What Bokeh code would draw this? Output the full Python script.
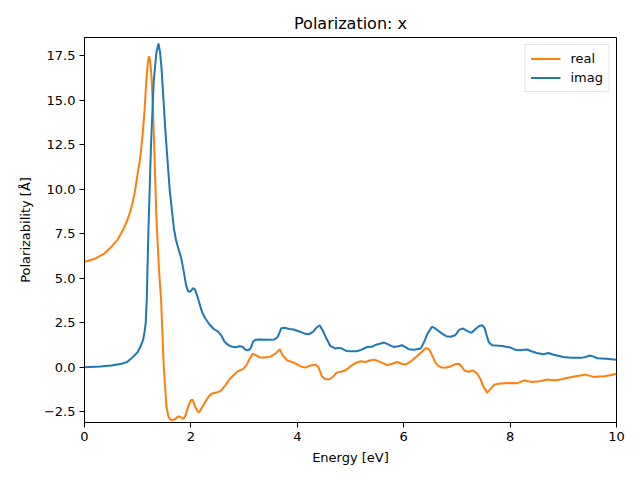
from bokeh.plotting import figure
from bokeh.models import Range1d, FixedTicker, CustomJSTickFormatter, Legend, LegendItem
from bokeh.embed import file_html
from bokeh.resources import INLINE

# ---- data ----
energy_imag = [0.0, 0.3, 0.5, 0.7, 0.8, 0.88, 0.95, 1.0, 1.05, 1.1,
               1.13, 1.15, 1.17, 1.2, 1.25, 1.3, 1.35, 1.39, 1.42, 1.45,
               1.52, 1.6, 1.68, 1.72, 1.77, 1.82, 1.87, 1.91, 1.95, 1.99,
               2.04, 2.08, 2.12, 2.16, 2.21, 2.26, 2.35, 2.43, 2.51, 2.57,
               2.63, 2.7, 2.76, 2.84, 2.91, 2.97, 3.02, 3.07, 3.12, 3.17,
               3.22, 3.3, 3.45, 3.57, 3.63, 3.7, 3.76, 3.85, 3.93, 4.05,
               4.15, 4.22, 4.3, 4.37, 4.42, 4.48, 4.55, 4.62, 4.72, 4.78,
               4.84, 4.92, 5.02, 5.12, 5.2, 5.31, 5.4, 5.48, 5.55, 5.63,
               5.7, 5.78, 5.82, 5.9, 5.97, 6.04, 6.1, 6.2, 6.32, 6.38,
               6.45, 6.53, 6.57, 6.65, 6.72, 6.8, 6.88, 6.97, 7.04, 7.11,
               7.19, 7.27, 7.35, 7.42, 7.48, 7.52, 7.56, 7.6, 7.66, 7.75,
               7.85, 8.01, 8.08, 8.16, 8.25, 8.32, 8.4, 8.5, 8.63, 8.72,
               8.8, 8.9, 9.0, 9.14, 9.33, 9.42, 9.5, 9.57, 9.64, 9.8,
               10.0]
imag_values = [0.0, 0.05, 0.1, 0.2, 0.3, 0.5, 0.7, 0.86, 1.15, 1.52,
               2.0, 2.46, 3.77, 7.5, 12.5, 16.0, 17.65, 18.18, 17.7, 16.7,
               13.3, 10.0, 7.8, 7.15, 6.6, 6.1, 5.3, 4.6, 4.25, 4.25,
               4.45, 4.35, 4.0, 3.6, 3.1, 2.8, 2.4, 2.15, 2.0, 1.8,
               1.45, 1.25, 1.17, 1.12, 1.18, 1.15, 1.0, 0.95, 1.05, 1.45,
               1.55, 1.56, 1.55, 1.56, 1.7, 2.2, 2.22, 2.15, 2.12, 2.0,
               1.88, 1.86, 2.0, 2.25, 2.36, 2.05, 1.6, 1.2, 1.05, 1.09,
               1.05, 0.92, 0.9, 0.9, 0.98, 1.14, 1.15, 1.27, 1.32, 1.39,
               1.3, 1.18, 1.14, 1.18, 1.24, 1.12, 1.01, 0.98, 1.05, 1.4,
               1.9, 2.27, 2.23, 2.05, 1.89, 1.75, 1.72, 1.8, 2.1, 2.18,
               2.05, 1.93, 2.15, 2.32, 2.36, 2.2, 1.8, 1.4, 1.24, 1.22,
               1.2, 1.11, 1.0, 0.96, 0.98, 1.0, 0.9, 0.8, 0.73, 0.8,
               0.72, 0.65, 0.58, 0.53, 0.53, 0.58, 0.66, 0.6, 0.51, 0.48,
               0.43]

energy_real = [0.0, 0.2, 0.38, 0.5, 0.63, 0.73, 0.81, 0.86, 0.9, 0.94,
               0.97, 1.0, 1.04, 1.07, 1.1, 1.13, 1.16, 1.19, 1.21, 1.23,
               1.26, 1.29, 1.32, 1.35, 1.4, 1.44, 1.49, 1.54, 1.58, 1.63,
               1.7, 1.75, 1.79, 1.83, 1.86, 1.9, 1.95, 2.0, 2.03, 2.08,
               2.13, 2.16, 2.2, 2.26, 2.32, 2.38, 2.44, 2.52, 2.57, 2.65,
               2.72, 2.8, 2.88, 2.98, 3.05, 3.1, 3.16, 3.22, 3.3, 3.4,
               3.5, 3.58, 3.67, 3.72, 3.81, 3.9, 3.97, 4.06, 4.15, 4.25,
               4.34, 4.4, 4.46, 4.52, 4.6, 4.68, 4.74, 4.82, 4.91, 5.0,
               5.1, 5.19, 5.28, 5.36, 5.44, 5.52, 5.6, 5.69, 5.78, 5.88,
               5.96, 6.03, 6.12, 6.25, 6.35, 6.42, 6.48, 6.53, 6.59, 6.63,
               6.7, 6.78, 6.88, 6.96, 7.04, 7.1, 7.15, 7.22, 7.3, 7.38,
               7.44, 7.5, 7.57, 7.62, 7.7, 7.78, 7.9, 8.04, 8.12, 8.2,
               8.26, 8.33, 8.41, 8.55, 8.7, 8.78, 8.85, 8.95, 9.07, 9.2,
               9.3, 9.42, 9.5, 9.57, 9.66, 9.77, 9.88, 10.0]
real_values = [5.93, 6.1, 6.4, 6.75, 7.2, 7.75, 8.3, 8.75, 9.2, 9.75,
               10.3, 10.9, 11.6, 12.4, 13.3, 14.5, 16.0, 17.1, 17.46, 17.3,
               16.3, 14.3, 11.5, 8.5, 5.5, 3.77, 0.0, -2.2, -2.8, -2.98,
               -2.92, -2.78, -2.76, -2.85, -2.89, -2.7, -2.2, -1.85, -1.82, -2.2,
               -2.5, -2.51, -2.3, -2.0, -1.7, -1.5, -1.44, -1.38, -1.3, -1.0,
               -0.7, -0.45, -0.22, -0.1, 0.15, 0.45, 0.76, 0.68, 0.55, 0.55,
               0.6, 0.75, 1.01, 0.7, 0.39, 0.3, 0.2, 0.05, -0.02, 0.1,
               0.15, 0.0, -0.5, -0.66, -0.69, -0.5, -0.3, -0.25, -0.17, 0.05,
               0.25, 0.34, 0.3, 0.38, 0.43, 0.35, 0.25, 0.12, 0.2, 0.3,
               0.2, 0.15, 0.3, 0.62, 0.9, 1.09, 1.0, 0.7, 0.3, 0.13,
               0.0, -0.02, 0.05, 0.17, 0.2, 0.0, -0.2, -0.25, -0.17, -0.35,
               -0.64, -1.1, -1.42, -1.25, -0.98, -0.92, -0.9, -0.88, -0.9, -0.82,
               -0.73, -0.78, -0.83, -0.78, -0.68, -0.72, -0.73, -0.68, -0.6, -0.52,
               -0.47, -0.41, -0.48, -0.54, -0.52, -0.5, -0.45, -0.36]

x_ticks = [0, 2, 4, 6, 8, 10]
y_ticks = [-2.5, 0.0, 2.5, 5.0, 7.5, 10.0, 12.5, 15.0, 17.5]

FONT = "DejaVu Sans"

p = figure(width=632, height=472, output_backend="svg", toolbar_location=None,
           x_range=Range1d(0, 10), y_range=Range1d(-3.1, 18.52),
           min_border_left=84, min_border_right=16, min_border_top=37,
           min_border_bottom=50,
           title="Polarization: x")
p.frame_width = 532
p.frame_height = 385

p.title.text_font = FONT
p.title.text_font_size = "16px"
p.title.text_font_style = "normal"
p.title.align = "center"
p.title.text_color = "black"

p.xgrid.visible = False
p.ygrid.visible = False
p.outline_line_color = "black"
p.outline_line_width = 1
p.outline_line_alpha = 1.0

for ax in (p.xaxis[0], p.yaxis[0]):
    ax.axis_label_text_font = FONT
    ax.axis_label_text_font_size = "13px"
    ax.axis_label_text_font_style = "normal"
    ax.axis_label_text_color = "black"
    ax.major_label_text_font = FONT
    ax.major_label_text_font_size = "13px"
    ax.major_label_text_color = "black"
    ax.major_tick_out = 5
    ax.major_tick_in = 0
    ax.minor_tick_out = 0
    ax.minor_tick_in = 0
    ax.major_tick_line_color = "black"
    ax.axis_line_color = "black"

p.xaxis.axis_label = "Energy [eV]"
p.yaxis.axis_label = "Polarizability [Å]"
p.xaxis.ticker = FixedTicker(ticks=x_ticks)
p.yaxis.ticker = FixedTicker(ticks=y_ticks)
p.xaxis.major_label_standoff = 4
p.yaxis.major_label_standoff = 4
p.xaxis.axis_label_standoff = 6
p.yaxis.axis_label_standoff = 8
p.yaxis.formatter = CustomJSTickFormatter(
    code="return tick.toFixed(1).replace('-', '\u2212');")
p.xaxis.formatter = CustomJSTickFormatter(code="return tick.toFixed(0);")

r_real = p.line(energy_real, real_values, line_color="#ff7f0e", line_width=2)
r_imag = p.line(energy_imag, imag_values, line_color="#1f77b4", line_width=2)

legend = Legend(items=[LegendItem(label="real", renderers=[r_real]),
                       LegendItem(label="imag", renderers=[r_imag])],
                location="top_right", margin=7, padding=5, spacing=2,
                glyph_width=30, glyph_height=17, label_height=17,
                label_standoff=10,
                label_text_font=FONT, label_text_font_size="13px",
                label_text_color="black",
                border_line_color="#cccccc", border_line_width=1,
                background_fill_alpha=0.8)
p.add_layout(legend)

open("out.html", "w").write(file_html(p, INLINE))
